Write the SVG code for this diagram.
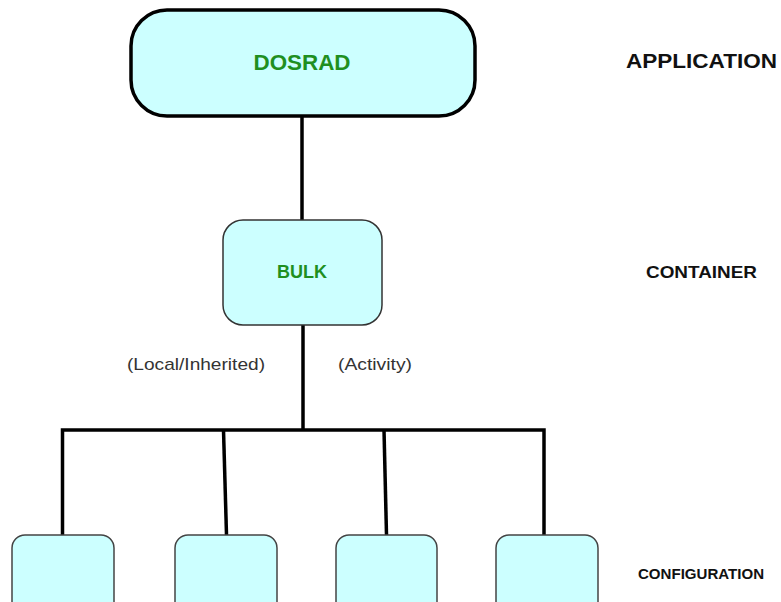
<svg xmlns="http://www.w3.org/2000/svg" width="781" height="602" viewBox="0 0 781 602">
<style>
.node{fill:#CCFFFF}
.app{stroke:#000;stroke-width:3.5}
.cont{stroke:#333;stroke-width:1.5}
.cfg{stroke:#444;stroke-width:1.5}
.name{font-family:"Liberation Sans",Arial,sans-serif;font-weight:bold;fill:#1f8f1f;text-anchor:middle}
.lvl{font-family:"Liberation Sans",Arial,sans-serif;font-weight:bold;fill:#111}
.lbl{font-family:"Liberation Sans",Arial,sans-serif;fill:#333;font-size:17px}
.wire{stroke:#000;stroke-width:3.5;fill:none}
</style>
<rect width="781" height="602" fill="#fff"/>
<g id="connectors">
<line class="wire" x1="302" y1="117" x2="302" y2="221"/>
<line class="wire" x1="303" y1="325" x2="303" y2="431"/>
<polyline class="wire" points="62.5,535 62.5,430 544,430 544,535"/>
<line class="wire" x1="223.5" y1="430" x2="226.5" y2="535"/>
<line class="wire" x1="384" y1="430" x2="386.5" y2="535"/>
</g>
<g id="dosrad">
<rect class="node app" x="131" y="10" width="344" height="106" rx="36" ry="36"/>
<text class="name" x="302" y="70" font-size="22" textLength="97" lengthAdjust="spacingAndGlyphs">DOSRAD</text>
</g>
<g id="bulk">
<rect class="node cont" x="223" y="220" width="159" height="105" rx="20" ry="20"/>
<text class="name" x="302" y="278" font-size="18" textLength="50" lengthAdjust="spacingAndGlyphs">BULK</text>
</g>
<g id="config1"><rect class="node cfg" x="12" y="535" width="102" height="80" rx="13" ry="13"/></g>
<g id="config2"><rect class="node cfg" x="175" y="535" width="102" height="80" rx="13" ry="13"/></g>
<g id="config3"><rect class="node cfg" x="336" y="535" width="101" height="80" rx="13" ry="13"/></g>
<g id="config4"><rect class="node cfg" x="496" y="535" width="102" height="80" rx="13" ry="13"/></g>
<g id="labels">
<text class="lvl" x="626" y="68" font-size="21" textLength="151" lengthAdjust="spacingAndGlyphs">APPLICATION</text>
<text class="lvl" x="646" y="278" font-size="16.5" textLength="111" lengthAdjust="spacingAndGlyphs">CONTAINER</text>
<text class="lvl" x="638" y="579" font-size="15" textLength="126" lengthAdjust="spacingAndGlyphs">CONFIGURATION</text>
<text class="lbl" x="127" y="370" textLength="138" lengthAdjust="spacingAndGlyphs">(Local/Inherited)</text>
<text class="lbl" x="338" y="370" textLength="74" lengthAdjust="spacingAndGlyphs">(Activity)</text>
</g>
</svg>
